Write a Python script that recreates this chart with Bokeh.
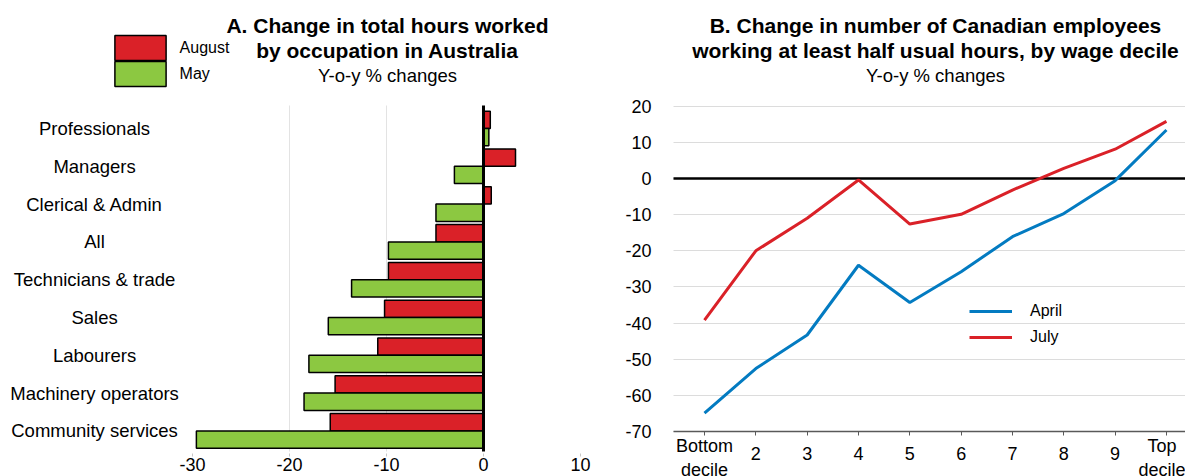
import numpy as np
from bokeh.plotting import figure
from bokeh.models import (ColumnDataSource, Range1d, FixedTicker, Legend, LegendItem,
                          Label, Grid, LinearAxis)
from bokeh.layouts import row
from bokeh.transform import dodge
from bokeh.core.properties import value
from bokeh.embed import file_html
from bokeh.resources import INLINE

# ---------------- data ----------------
occupations = ["Professionals", "Managers", "Clerical & Admin", "All",
               "Technicians & trade", "Sales", "Labourers",
               "Machinery operators", "Community services"]
august = [0.7, 3.3, 0.8, -4.9, -9.8, -10.2, -10.9, -15.3, -15.8]
may = [0.55, -3.0, -4.9, -9.8, -13.6, -16.0, -18.0, -18.5, -29.6]
a_ticks = [-30, -20, -10, 0, 10]

deciles = ["Bottom\ndecile", "2", "3", "4", "5", "6", "7", "8", "9", "Top\ndecile"]
april = [-64.9, -52.6, -43.3, -24.0, -34.3, -25.8, -16.1, -9.7, -0.6, 13.4]
july = [-39.2, -20.0, -11.0, -0.4, -12.6, -9.9, -3.2, 2.8, 8.1, 15.8]
b_ticks = list(range(-70, 21, 10))

RED = "#DA2128"
GREEN = "#8CC841"
BLUE = "#037BC1"
FONT = "Liberation Sans"

# ---------------- Panel A ----------------
k = np.arange(len(occupations))[::-1]
srcA = ColumnDataSource(dict(cat=occupations, k=k, august=august, may=may))

pa = figure(width=600, height=476, min_border=0,
            x_range=Range1d(-49.794, 12.062), y_range=Range1d(-1.206, 11.386),
            output_backend="svg", toolbar_location=None, y_axis_location=None,
            outline_line_color=None)

pa.xgrid.ticker = FixedTicker(ticks=[-20, -10])
pa.xgrid.grid_line_color = "#e3e3e3"
pa.xgrid.grid_line_width = 1
pa.xgrid.cross_bounds = (-0.545, 8.608)
pa.ygrid.visible = False

aug_r = pa.hbar(y=dodge("k", 0.229), left=0, right="august", height=0.458, source=srcA,
                fill_color=RED, line_color="black", line_width=1.5)
may_r = pa.hbar(y=dodge("k", -0.229), left=0, right="may", height=0.458, source=srcA,
                fill_color=GREEN, line_color="black", line_width=1.5)

zero_a = Grid(dimension=0, ticker=FixedTicker(ticks=[0]), grid_line_color="black",
              grid_line_width=3, cross_bounds=(-0.545, 8.608), level="annotation")
pa.add_layout(zero_a)

xa = pa.xaxis[0]
xa.fixed_location = -0.585
xa.ticker = FixedTicker(ticks=a_ticks)
xa.major_label_overrides = {t: str(t) for t in a_ticks}
xa.axis_line_color = None
xa.major_tick_line_color = "#c8c8c8"
xa.major_tick_out = 3
xa.major_tick_in = 0
xa.minor_tick_line_color = None
xa.major_label_text_font = FONT
xa.major_label_text_font_size = "18px"
xa.major_label_text_color = "black"
xa.major_label_standoff = 2

pa.text(x=-40.1, y="k", text="cat", source=srcA, text_font=value(FONT),
        text_font_size=value("18.5px"), text_align="center", text_baseline="middle",
        text_color="black")

leg_common = dict(orientation="vertical", glyph_width=64, glyph_height=31, spacing=0,
                  padding=0, margin=0, label_standoff=8, label_text_font=FONT,
                  label_text_font_size="16px", label_text_color="black",
                  border_line_color=None, background_fill_alpha=0)
legA1 = Legend(items=[LegendItem(label="August", renderers=[aug_r])],
               location=(107.6, 412.9), **leg_common)
legA2 = Legend(items=[LegendItem(label="May", renderers=[may_r])],
               location=(107.6, 386.9), **leg_common)
pa.add_layout(legA1, "center")
pa.add_layout(legA2, "center")

for txt, yy, sz, st in [("A. Change in total hours worked", 10.725, "21px", "bold"),
                        ("by occupation in Australia", 10.063, "21px", "bold"),
                        ("Y-o-y % changes", 9.402, "18.5px", "normal")]:
    pa.add_layout(Label(x=-9.9, y=yy, text=txt, text_font=FONT, text_font_size=sz,
                        text_font_style=st, text_align="center", text_baseline="middle",
                        text_color="black"))

# ---------------- Panel B ----------------
srcB = ColumnDataSource(dict(x=np.arange(len(deciles)), april=april, july=july))
XL, XR = -0.604, 9.371

pb = figure(width=585, height=476, min_border=0,
            x_range=Range1d(-2.026, XR), y_range=Range1d(-82.45, 49.244),
            output_backend="svg", toolbar_location=None, outline_line_color=None)

pb.ygrid.ticker = FixedTicker(ticks=b_ticks)
pb.ygrid.grid_line_color = "#dcdcdc"
pb.ygrid.grid_line_width = 1
pb.ygrid.cross_bounds = (XL, XR)
pb.xgrid.visible = False

zero_b = Grid(dimension=1, ticker=FixedTicker(ticks=[0]), grid_line_color="black",
              grid_line_width=2.5, cross_bounds=(XL, XR))
pb.add_layout(zero_b)

ya = pb.yaxis[0]
ya.fixed_location = XL
ya.ticker = FixedTicker(ticks=b_ticks)
ya.major_label_overrides = {t: str(t) for t in b_ticks}
ya.axis_line_color = None
ya.major_tick_line_color = None
ya.minor_tick_line_color = None
ya.major_label_text_font = FONT
ya.major_label_text_font_size = "18px"
ya.major_label_text_color = "black"
ya.major_label_standoff = 16

xb = pb.xaxis[0]
xb.fixed_location = -70
xb.bounds = (XL, XR)
xb.ticker = FixedTicker(ticks=list(range(len(deciles))))
xb.major_label_overrides = {i: (lab if "\n" in lab else "") for i, lab in enumerate(deciles)}
xb.axis_line_color = "#595959"
xb.axis_line_width = 1.5
xb.major_tick_line_color = "#595959"
xb.major_tick_out = 4
xb.major_tick_in = 0
xb.minor_tick_line_color = None
xb.major_label_text_font = FONT
xb.major_label_text_font_size = "18px"
xb.major_label_text_color = "black"
xb.major_label_standoff = 0

single = [i for i, lab in enumerate(deciles) if "\n" not in lab]
xb2 = LinearAxis(fixed_location=-70, ticker=FixedTicker(ticks=single),
                 major_label_overrides={i: deciles[i] for i in single},
                 axis_line_color=None, major_tick_line_color=None, major_tick_out=0,
                 major_tick_in=0, minor_tick_line_color=None,
                 major_label_text_font=FONT, major_label_text_font_size="18px",
                 major_label_text_color="black", major_label_standoff=15)
pb.add_layout(xb2, "below")

ap = pb.line("x", "april", source=srcB, line_color=BLUE, line_width=3)
jl = pb.line("x", "july", source=srcB, line_color=RED, line_width=3)

legB = Legend(items=[LegendItem(label="April", renderers=[ap]),
                     LegendItem(label="July", renderers=[jl])],
              location=(369, 129), orientation="vertical",
              glyph_width=43, glyph_height=20, spacing=6, padding=0, margin=0,
              label_standoff=18, label_text_font=FONT, label_text_font_size="16px",
              label_text_color="black",
              border_line_color=None, background_fill_alpha=0)
pb.add_layout(legB, "center")

for txt, yy, sz, st in [("B. Change in number of Canadian employees", 42.33, "21px", "bold"),
                        ("working at least half usual hours, by wage decile", 35.41, "21px", "bold"),
                        ("Y-o-y % changes", 28.49, "18.5px", "normal")]:
    pb.add_layout(Label(x=4.5, y=yy, text=txt, text_font=FONT, text_font_size=sz,
                        text_font_style=st, text_align="center", text_baseline="middle",
                        text_color="black"))

layout = row(pa, pb)
open("out.html", "w").write(file_html(layout, INLINE))
